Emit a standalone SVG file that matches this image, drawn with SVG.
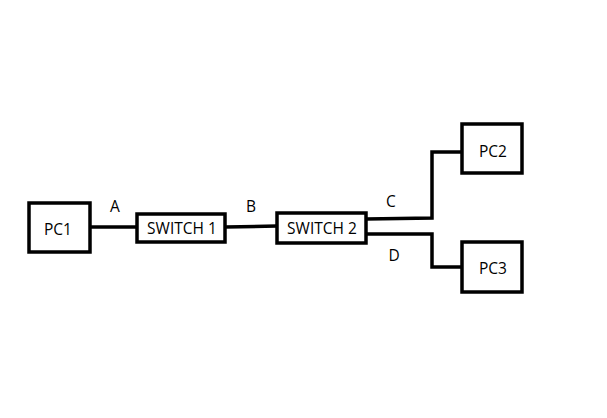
<svg xmlns="http://www.w3.org/2000/svg" width="607" height="418" viewBox="0 0 607 418">
<style>
.box{fill:#fff;stroke:#000;stroke-width:3.5}
.ln{fill:none;stroke:#000;stroke-width:3.5}
text{font-family:"Open Sans","Noto Sans",sans-serif;font-size:15.5px;fill:#000}
.c{text-anchor:middle;dominant-baseline:central}
</style>
<rect width="607" height="418" fill="#fff"/>
<g id="connectors">
<path class="ln" d="M90,227 H137"/>
<path class="ln" d="M225,227 L277,226"/>
<path class="ln" d="M366,219 L432,218 V152 H462"/>
<path class="ln" d="M366,234 H432 V267 H462"/>
<text class="c" x="115" y="206">A</text>
<text class="c" x="251" y="206">B</text>
<text class="c" x="391" y="201">C</text>
<text class="c" x="394" y="255">D</text>
</g>
<g id="pc1"><rect class="box" x="29" y="203" width="61" height="49"/><text class="c" x="58" y="228.5">PC1</text></g>
<g id="switch1"><rect class="box" x="137" y="214" width="88" height="28"/><text class="c" x="182" y="227.5">SWITCH 1</text></g>
<g id="switch2"><rect class="box" x="277" y="213" width="89" height="30"/><text class="c" x="322" y="227.5">SWITCH 2</text></g>
<g id="pc2"><rect class="box" x="462" y="124" width="60" height="49"/><text class="c" x="493" y="150.5">PC2</text></g>
<g id="pc3"><rect class="box" x="462" y="242" width="60" height="50"/><text class="c" x="493" y="267.5">PC3</text></g>
</svg>
